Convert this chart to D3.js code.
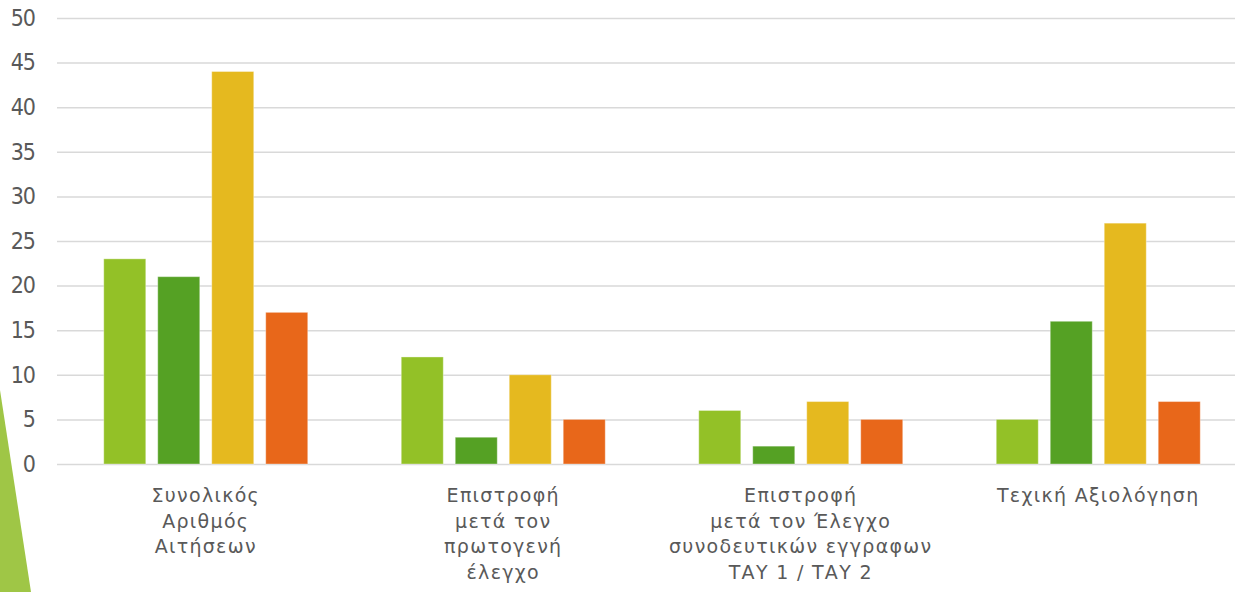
<!DOCTYPE html>
<html>
<head>
<meta charset="utf-8">
<script src="https://cdn.jsdelivr.net/npm/d3@7"></script>
<style>
  body { margin: 0; background: #fff; overflow: hidden; }
  text { font-family: "DejaVu Sans", sans-serif; fill: #595959; }
</style>
</head>
<body>
<script>
// Chart data.
var categories = [
    ["Συνολικός", "Αριθμός", "Αιτήσεων"],
    ["Επιστροφή", "μετά τον", "πρωτογενή", "έλεγχο"],
    ["Επιστροφή", "μετά τον Έλεγχο", "συνοδευτικών εγγραφων", "ΤΑΥ 1 / ΤΑΥ 2"],
    ["Τεχική Αξιολόγηση"]
];
var series1 = [23, 12, 6, 5];
var series2 = [21, 3, 2, 16];
var series3 = [44, 10, 7, 27];
var series4 = [17, 5, 5, 7];
var yTicks = [0, 5, 10, 15, 20, 25, 30, 35, 40, 45, 50];
var colors = ["#93c127", "#55a124", "#e5b91f", "#e8671a"];

var width = 1235, height = 592;
var margin = {left: 57, top: 18, bottom: 128};
var plotRight = 1247;

var svg = d3.select("body").append("svg")
        .attr("width", width)
        .attr("height", height);

// Decorative shape on the left edge.
svg.append("polygon")
        .attr("points", "0,390 31,592 0,592")
        .style("fill", "#9fc646");

var x0 = d3.scaleBand()
        .domain(d3.range(categories.length))
        .range([margin.left, plotRight]);
var x1 = d3.scaleBand()
        .domain(d3.range(4))
        .range([0, x0.bandwidth()])
        .paddingInner(0.222)
        .paddingOuter(0.866);
var y = d3.scaleLinear()
        .domain([0, 50])
        .range([height - margin.bottom, margin.top]);

// Gridlines and y labels.
var yAxis = svg.append("g")
        .attr("transform", "translate(" + margin.left + ",0)")
        .call(d3.axisLeft(y).tickValues(yTicks).tickSize(-(plotRight - margin.left)).tickPadding(22));
yAxis.select(".domain").remove();
yAxis.selectAll(".tick line").style("stroke", "#d9d9d9").style("stroke-width", 1.5);
yAxis.selectAll(".tick text")
        .style("font-size", "23px")
        .style("letter-spacing", "-1px")
        .style("fill", "#595959")
        .style("font-family", "'DejaVu Sans Condensed', 'DejaVu Sans', sans-serif");

// Bars.
var allSeries = [series1, series2, series3, series4];
allSeries.forEach(function(values, s) {
    svg.append("g").selectAll("rect")
            .data(values)
            .enter().append("rect")
            .attr("x", function(d, i) { return x0(i) + x1(s); })
            .attr("y", function(d) { return y(d); })
            .attr("width", x1.bandwidth())
            .attr("height", function(d) { return y(0) - y(d); })
            .style("fill", colors[s])
            .style("stroke", "rgba(255,255,255,0.35)")
            .style("stroke-width", 1);
});

// Category labels.
categories.forEach(function(lines, i) {
    var t = svg.append("text")
            .attr("text-anchor", "middle")
            .style("font-size", "19px")
            .style("letter-spacing", "1.3px");
    lines.forEach(function(line, k) {
        t.append("tspan")
                .attr("x", x0(i) + x0.bandwidth() / 2)
                .attr("y", 502 + k * 25.7)
                .text(line);
    });
});
</script>
</body>
</html>
